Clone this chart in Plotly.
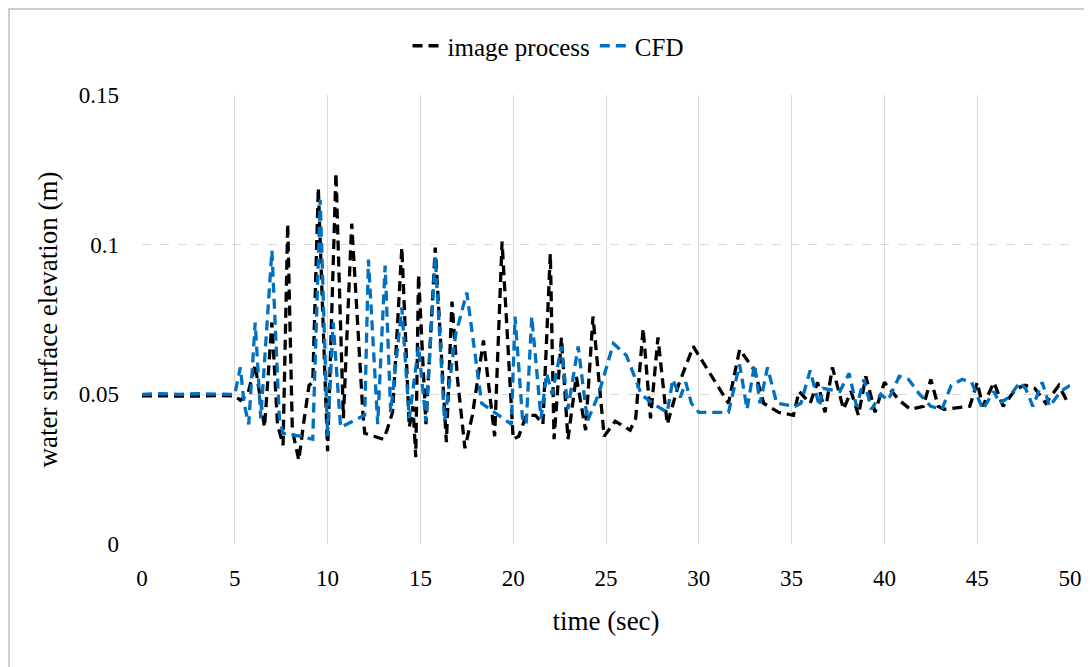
import plotly.graph_objects as go

# image process (black dashed)
img_t = [0, 1, 2, 3, 4, 5.0, 5.3, 5.7, 6.1, 6.6, 7.0, 7.3, 7.6, 7.85, 8.1, 8.45, 8.7, 9.0, 9.2,
         9.5, 10.0, 10.45, 10.85, 11.3, 11.9, 12.0, 12.5, 13.0, 13.2, 13.5, 14.0, 14.4, 14.6,
         14.75, 14.9, 15.3, 15.8, 16.4, 16.7, 17.0, 17.4, 17.8, 18.4, 19.0, 19.4, 20.0, 20.3,
         20.7, 21.2, 21.6, 22.0, 22.2, 22.6, 22.95, 23.4, 23.9, 24.3, 24.9, 25.5, 26.3, 26.6,
         27.0, 27.4, 27.8, 28.3, 28.9, 29.7, 30.4, 31.2, 31.6, 32.2, 33.0, 33.5, 34.3, 35.1,
         35.4, 36.0, 36.4, 36.8, 37.2, 37.8, 38.2, 38.6, 39.0, 39.5, 40.0, 40.8, 41.4, 42.1,
         42.5, 42.9, 43.2, 44.6, 45.0, 45.3, 45.9, 46.4, 47.1, 47.6, 48.1, 48.7, 49.4, 49.9, 50.0]
img_v = [0.0495, 0.0494, 0.0495, 0.0494, 0.0496, 0.0495, 0.048, 0.050, 0.060, 0.039, 0.074, 0.040,
         0.033, 0.107, 0.038, 0.028, 0.040, 0.053, 0.054, 0.119, 0.031, 0.124, 0.042, 0.107,
         0.044, 0.037, 0.036, 0.035, 0.038, 0.044, 0.099, 0.039, 0.046, 0.029, 0.090, 0.040,
         0.099, 0.034, 0.081, 0.055, 0.032, 0.043, 0.068, 0.036, 0.101, 0.035, 0.036, 0.043,
         0.043, 0.040, 0.097, 0.035, 0.069, 0.035, 0.056, 0.038, 0.076, 0.036, 0.041, 0.038,
         0.042, 0.072, 0.042, 0.069, 0.040, 0.053, 0.066, 0.059, 0.051, 0.047, 0.065, 0.058,
         0.047, 0.044, 0.043, 0.051, 0.047, 0.054, 0.044, 0.059, 0.045, 0.051, 0.043, 0.056,
         0.044, 0.054, 0.048, 0.045, 0.046, 0.055, 0.046, 0.045, 0.046, 0.054, 0.046, 0.054,
         0.046, 0.052, 0.053, 0.052, 0.047, 0.053, 0.047, 0.047]

# CFD (blue dashed)
cfd_t = [0, 1, 2, 3, 4, 5.0, 5.3, 5.5, 5.75, 6.1, 6.4, 7.0, 7.4, 7.6, 8.5, 9.2, 9.6, 10.0, 10.3,
         10.7, 12.0, 12.2, 12.7, 13.1, 13.4, 14.0, 14.4, 14.9, 15.3, 15.8, 16.3, 16.9, 17.5,
         18.0, 18.3, 19.9, 20.1, 20.5, 20.7, 21.0, 21.5, 21.8, 22.1, 22.6, 22.95, 23.5, 24.0,
         24.6, 25.0, 25.4, 26.1, 26.9, 27.5, 28.3, 28.6, 29.0, 29.3, 29.6, 30.0, 31.6, 32.2,
         32.6, 33.0, 33.3, 33.7, 34.2, 35.2, 35.5, 36.0, 36.5, 36.7, 37.6, 38.1, 38.5, 38.9,
         39.3, 39.8, 40.2, 40.8, 41.3, 41.9, 42.5, 43.1, 43.6, 44.2, 44.7, 45.3, 45.9, 46.2,
         46.7, 47.3, 47.6, 48.0, 48.5, 48.9, 49.5, 50.0]
cfd_v = [0.0500, 0.0502, 0.0500, 0.0502, 0.0501, 0.0500, 0.059, 0.047, 0.040, 0.074, 0.042, 0.098,
         0.042, 0.037, 0.036, 0.035, 0.115, 0.036, 0.074, 0.039, 0.043, 0.095, 0.040, 0.093,
         0.044, 0.079, 0.042, 0.066, 0.041, 0.096, 0.041, 0.070, 0.084, 0.062, 0.047, 0.040,
         0.076, 0.042, 0.040, 0.076, 0.042, 0.057, 0.050, 0.066, 0.045, 0.066, 0.041, 0.050,
         0.059, 0.067, 0.063, 0.050, 0.047, 0.044, 0.055, 0.049, 0.054, 0.047, 0.044, 0.044,
         0.060, 0.045, 0.060, 0.047, 0.059, 0.047, 0.046, 0.047, 0.058, 0.046, 0.052, 0.051,
         0.057, 0.046, 0.055, 0.045, 0.050, 0.048, 0.056, 0.055, 0.050, 0.046, 0.045, 0.053,
         0.055, 0.054, 0.045, 0.051, 0.047, 0.049, 0.054, 0.052, 0.046, 0.054, 0.046, 0.051,
         0.053]

x_ticks = [0, 5, 10, 15, 20, 25, 30, 35, 40, 45, 50]
y_ticks = [0, 0.05, 0.1, 0.15]
y_tick_text = ["0", "0.05", "0.1", "0.15"]

FONT = "Liberation Serif, Times New Roman, serif"
# page body has an 8px margin: figure drawn at offset (8, 8) in the window
W, H = 1084, 659
L, R, T, B = 134, 22, 87, 123
pw, ph = W - L - R, H - T - B

fig = go.Figure()
fig.add_trace(go.Scatter(x=img_t, y=img_v, mode="lines", name="image process",
                         line=dict(color="black", width=3.3, dash="10px,6px")))
fig.add_trace(go.Scatter(x=cfd_t, y=cfd_v, mode="lines", name="CFD",
                         line=dict(color="#0070C0", width=3.3, dash="10px,6px")))

fig.update_layout(
    width=W, height=H,
    margin=dict(l=L, r=R, t=T, b=B, autoexpand=False),
    paper_bgcolor="white", plot_bgcolor="white",
    font=dict(family=FONT, color="black", size=23),
    showlegend=True,
    legend=dict(orientation="h", x=(540 - L) / pw, y=(ph + T - 38) / ph,
                xanchor="center", yanchor="middle", font=dict(size=25),
                itemwidth=30, bgcolor="rgba(0,0,0,0)"),
    xaxis=dict(range=[0, 50], tickvals=x_ticks, showgrid=True, gridcolor="#d9d9d9",
               gridwidth=1.3, zeroline=False, showline=False, ticks="",
               ticklabelstandoff=18,
               title=dict(text="time (sec)", font=dict(size=27), standoff=21),
               tickfont=dict(size=23)),
    yaxis=dict(range=[0, 0.15], tickvals=y_ticks, ticktext=y_tick_text, showgrid=True,
               gridcolor="#d9d9d9", gridwidth=1.3, griddash="dash", zeroline=False,
               showline=False, ticks="", ticklabelstandoff=22,
               title=dict(text="water surface elevation (m)", font=dict(size=27), standoff=13),
               tickfont=dict(size=23)),
)

# outer chart border (Excel chart area frame)
fig.add_shape(type="rect", xref="paper", yref="paper",
              x0=(1 - L) / pw, x1=(W + 20 - L) / pw,
              y0=(T + ph - (H + 20)) / ph, y1=(T + ph - 1) / ph,
              line=dict(color="#bfbfbf", width=1.5), layer="below")

fig.write_html("out.html")
